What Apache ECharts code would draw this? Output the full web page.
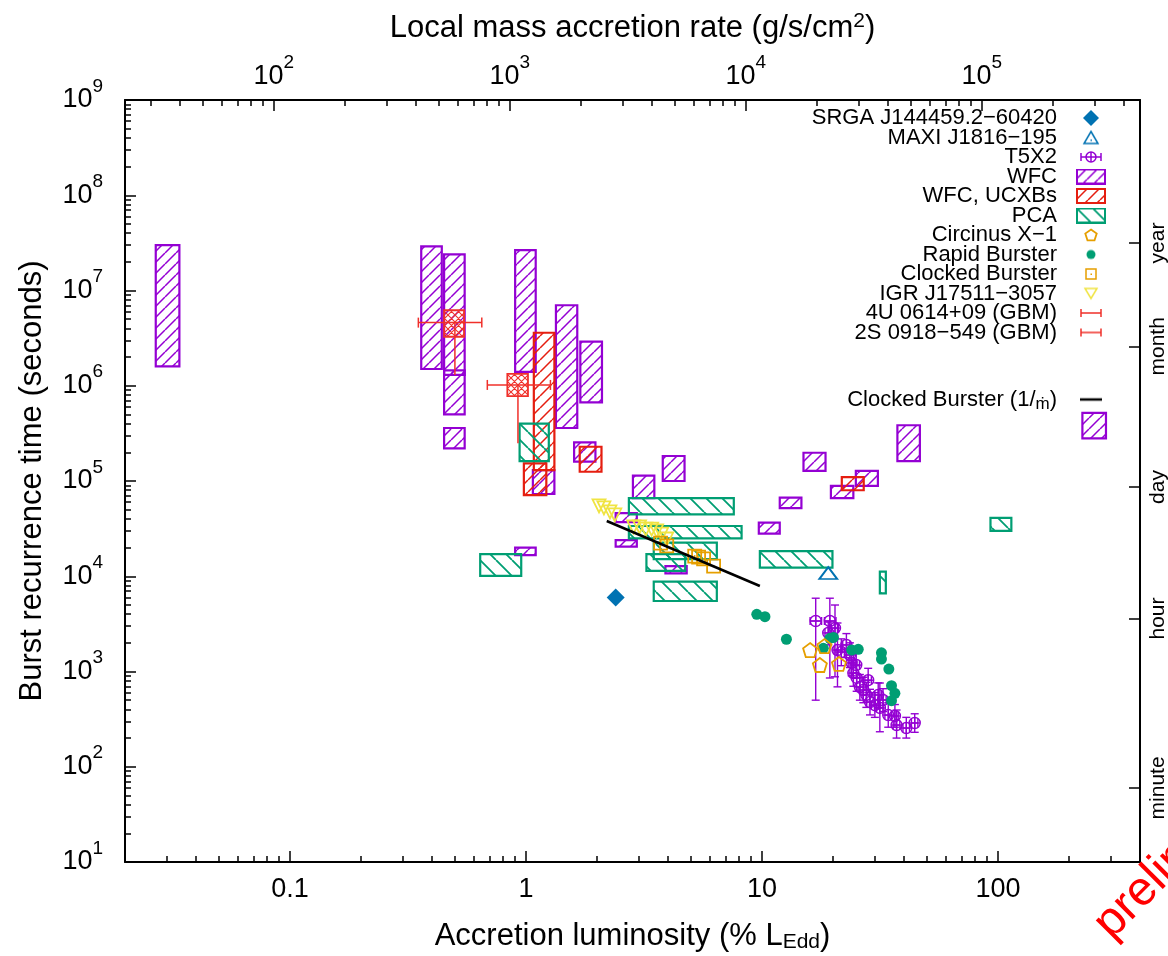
<!DOCTYPE html>
<html>
<head>
<meta charset="utf-8">
<title>Burst recurrence time vs accretion luminosity</title>
<script src="https://cdn.jsdelivr.net/npm/echarts@6/dist/echarts.min.js"></script>
<style>
  html, body { margin: 0; padding: 0; background: #fff; }
  #chart { width: 1168px; height: 956px; }
</style>
</head>
<body>
<div id="chart"></div>
<script>
// ---- data (L in % L_Edd, t in seconds) ----
// boxes: [Lmin, Lmax, tmin, tmax]
const wfcBoxes = [
  [0.027, 0.034, 1.6e6, 3.0e7],
  [0.36, 0.44, 1.5e6, 2.9e7],
  [0.45, 0.55, 1.3e6, 2.4e7],
  [0.45, 0.55, 5.0e5, 1.45e6],
  [0.45, 0.55, 2.2e5, 3.6e5],
  [0.9, 1.1, 1.4e6, 2.65e7],
  [1.34, 1.65, 3.6e5, 7.0e6],
  [1.7, 2.1, 6.7e5, 2.9e6],
  [1.07, 1.32, 7.3e4, 1.3e5],
  [1.6, 1.97, 1.6e5, 2.55e5],
  [2.84, 3.5, 6.6e4, 1.14e5],
  [3.8, 4.7, 1.0e5, 1.83e5],
  [0.9, 1.1, 1.67e4, 2.0e4],
  [2.4, 2.95, 3.7e4, 4.6e4],
  [2.4, 2.95, 2.05e4, 2.4e4],
  [3.9, 4.8, 1.07e4, 1.28e4],
  [9.7, 11.9, 2.8e4, 3.65e4],
  [11.9, 14.7, 5.2e4, 6.7e4],
  [15.0, 18.6, 1.28e5, 1.98e5],
  [19.6, 24.4, 6.6e4, 8.9e4],
  [25.0, 31.0, 8.9e4, 1.28e5],
  [37.5, 46.7, 1.62e5, 3.85e5],
  [228, 287, 2.8e5, 5.2e5]
];
const ucxbBoxes = [
  [1.08, 1.32, 1.3e5, 3.6e6],
  [0.98, 1.22, 7.1e4, 1.53e5],
  [1.69, 2.09, 1.25e5, 2.29e5],
  [21.8, 27.0, 8.0e4, 1.1e5]
];
const pcaBoxes = [
  [0.94, 1.25, 1.62e5, 4.0e5],
  [0.64, 0.955, 1.01e4, 1.71e4],
  [2.73, 7.6, 4.47e4, 6.6e4],
  [2.73, 8.2, 2.5e4, 3.37e4],
  [3.48, 6.44, 1.51e4, 2.25e4],
  [3.24, 4.73, 1.14e4, 1.71e4],
  [3.48, 6.44, 5.5e3, 8.8e3],
  [9.8, 19.9, 1.23e4, 1.84e4],
  [31.6, 33.5, 6.6e3, 1.12e4],
  [93, 114, 3.0e4, 4.1e4]
];
// GBM: [L, t, Llo, Lhi, tlo, boxLmin, boxLmax, boxTmin, boxTmax]
const gbm4U = [[0.50, 4.6e6, 0.35, 0.65, 1.3e6, 0.45, 0.547, 3.27e6, 6.2e6]];
const gbm2S = [[0.925, 1.02e6, 0.686, 1.27, 2.49e5, 0.834, 1.02, 7.8e5, 1.33e6]];
// T5X2: [L, t, tlo, thi, Llo, Lhi]
const t5x2 = [
  [16.9, 3390, 500, 5880, 16.0, 17.9],
  [19.4, 3390, 855, 5880, 18.4, 20.6],
  [20.4, 2860, 880, 4990, 19.7, 21.1],
  [19.1, 2540, 1900, 3300, 18.5, 19.8],
  [20.9, 1680, 690, 3230, 20.2, 21.6],
  [21.7, 1600, 1150, 2200, 21.0, 22.4],
  [22.8, 1900, 1400, 2500, 22.0, 23.6],
  [23.6, 1490, 1100, 2000, 22.8, 24.4],
  [24.0, 1230, 900, 1650, 23.2, 24.8],
  [25.1, 1170, 860, 1550, 24.3, 25.9],
  [24.4, 963, 700, 1300, 23.6, 25.2],
  [25.2, 855, 620, 1150, 24.4, 26.0],
  [26.0, 687, 500, 930, 25.1, 26.9],
  [26.9, 639, 470, 870, 26.0, 27.8],
  [27.7, 567, 420, 770, 26.8, 28.6],
  [28.2, 810, 600, 1080, 27.3, 29.1],
  [28.7, 478, 350, 650, 27.8, 29.6],
  [30.1, 443, 330, 600, 29.1, 31.1],
  [31.1, 567, 420, 760, 30.1, 32.1],
  [31.6, 414, 233, 757, 30.6, 32.6],
  [32.6, 502, 380, 660, 31.6, 33.6],
  [34.3, 349, 260, 470, 33.2, 35.4],
  [36.6, 341, 260, 450, 35.4, 37.8],
  [37.2, 274, 200, 394, 36.0, 38.4],
  [40.9, 255, 200, 330, 39.6, 42.2],
  [44.4, 288, 230, 360, 43.0, 45.8]
];
const srga = [[2.4, 6.0e3]];
const maxi = [[19.1, 1.08e4]];
const circinus = [[16.0, 1680], [17.6, 1170], [21.2, 1200], [18.4, 1850]];
const rapid = [
  [9.51, 3980], [10.3, 3760], [12.7, 2180], [19.4, 2230], [20.1, 2280],
  [18.2, 1750], [24.0, 1680], [25.6, 1710], [32.1, 1570], [32.1, 1350],
  [34.5, 1060], [35.4, 710], [36.6, 590], [35.4, 494]
];
const clocked = [[3.72, 2.23e4], [3.95, 2.08e4], [5.19, 1.63e4], [5.39, 1.59e4], [5.66, 1.52e4], [6.24, 1.28e4]];
const igr = [
  [2.04, 5.47e4], [2.14, 5.21e4], [2.27, 4.73e4], [2.38, 4.40e4],
  [2.86, 3.29e4], [3.03, 3.29e4], [3.22, 3.13e4], [3.41, 3.13e4],
  [3.58, 2.99e4], [3.76, 2.77e4], [3.95, 2.46e4]
];
const clockedLine = [[2.2, 3.8e4], [9.8, 7.9e3]];

// axes
const lumTicks = [0.1, 1, 10, 100];
const timeExpTicks = [1, 2, 3, 4, 5, 6, 7, 8, 9];
const mdotExpTicks = [2, 3, 4, 5];
const timeMarks = [60, 3600, 86400, 2.592e6, 3.156e7];
const timeMarkLabels = ['minute', 'hour', 'day', 'month', 'year'];
const MDOT_PER_LEDD = 1170; // g/s/cm^2 per % L_Edd
const X_MIN = 0.02, X_MAX = 400, Y_MIN = 10, Y_MAX = 1e9;

// ---- helpers ----
const lg = Math.log10;
const FONT = "'Liberation Sans', Arial, Helvetica, sans-serif";
const PURPLE = '#9400D3', RED = '#E51E10', GREEN = '#009E73', BLUE = '#0072B2',
      ORANGE = '#E69F00', YELLOW = '#F0E442', GBMRED = '#F0302A';

function minorTicks(lo, hi) {
  const out = [];
  for (let e = Math.floor(lg(lo)); e <= Math.ceil(lg(hi)); e++) {
    for (let k = 2; k <= 9; k++) {
      const v = k * Math.pow(10, e);
      if (v > lo && v < hi) out.push(lg(v));
    }
  }
  return out;
}

function hatch(color, p, dirs, width) {
  const c = document.createElement('canvas');
  c.width = p; c.height = p;
  const ctx = c.getContext('2d');
  ctx.strokeStyle = color; ctx.lineWidth = width;
  ctx.beginPath();
  for (let k = -1; k <= 1; k++) {
    if (dirs.includes('/')) { ctx.moveTo(k * p, p); ctx.lineTo(k * p + p, 0); }
    if (dirs.includes('\\')) { ctx.moveTo(k * p, 0); ctx.lineTo(k * p + p, p); }
  }
  ctx.stroke();
  return c;
}
const hatchWFC = hatch(PURPLE, 11, '/', 1.5);
const hatchUCXB = hatch(RED, 12, '/', 1.5);
const hatchPCA = hatch(GREEN, 16, '\\', 1.8);
const hatchGBM = hatch(GBMRED, 7, '/\\', 1.1);

function icon(draw) {
  const c = document.createElement('canvas');
  c.width = 30; c.height = 16;
  const ctx = c.getContext('2d');
  draw(ctx);
  return 'image://' + c.toDataURL();
}
function hatchIcon(color, pat) {
  return icon(ctx => {
    ctx.fillStyle = ctx.createPattern(pat, 'repeat');
    ctx.fillRect(1, 1, 28, 14);
    ctx.strokeStyle = color; ctx.lineWidth = 2;
    ctx.strokeRect(1, 1, 28, 14);
  });
}
function errIcon(color, withCircle) {
  return icon(ctx => {
    ctx.strokeStyle = color; ctx.lineWidth = 1.5;
    ctx.beginPath();
    ctx.moveTo(5, 8); ctx.lineTo(25, 8);
    ctx.moveTo(5, 4); ctx.lineTo(5, 12);
    ctx.moveTo(25, 4); ctx.lineTo(25, 12);
    if (withCircle) { ctx.moveTo(15, 3); ctx.lineTo(15, 13); }
    ctx.stroke();
    if (withCircle) { ctx.beginPath(); ctx.arc(15, 8, 5, 0, Math.PI * 2); ctx.stroke(); }
  });
}

const toLog = rows => rows.map(r => r.map(lg));

function boxSeries(name, boxes, color, pat) {
  const fill = { image: pat, repeat: 'repeat' };
  return {
    name, type: 'custom', clip: true,
    encode: { x: [0, 1], y: [2, 3] },
    data: toLog(boxes),
    renderItem(params, api) {
      const p0 = api.coord([api.value(0), api.value(2)]);
      const p1 = api.coord([api.value(1), api.value(3)]);
      return {
        type: 'rect',
        shape: { x: p0[0], y: p1[1], width: p1[0] - p0[0], height: p0[1] - p1[1] },
        style: { fill, stroke: color, lineWidth: 2.2 }
      };
    }
  };
}

function seg(x1, y1, x2, y2, st) { return { type: 'line', shape: { x1, y1, x2, y2 }, style: st }; }

function gbmSeries(name, rows) {
  const fill = { image: hatchGBM, repeat: 'repeat' };
  return {
    name, type: 'custom',
    encode: { x: [0, 2, 3], y: [1, 4] },
    data: toLog(rows),
    renderItem(params, api) {
      const c = api.coord([api.value(0), api.value(1)]);
      const xl = api.coord([api.value(2), api.value(1)])[0];
      const xh = api.coord([api.value(3), api.value(1)])[0];
      const yl = api.coord([api.value(0), api.value(4)])[1];
      const b0 = api.coord([api.value(5), api.value(7)]);
      const b1 = api.coord([api.value(6), api.value(8)]);
      const st = { stroke: GBMRED, lineWidth: 1.5, fill: 'none' };
      return { type: 'group', children: [
        seg(c[0], c[1], c[0], yl, st),
        seg(xl, c[1], xh, c[1], st),
        seg(xl, c[1] - 5, xl, c[1] + 5, st),
        seg(xh, c[1] - 5, xh, c[1] + 5, st),
        { type: 'rect', shape: { x: b0[0], y: b1[1], width: b1[0] - b0[0], height: b0[1] - b1[1] },
          style: { fill, stroke: GBMRED, lineWidth: 1.8 } }
      ]};
    }
  };
}

const hollow = color => ({ color: 'rgba(0,0,0,0)', borderColor: color, borderWidth: 1.8, opacity: 1 });

const series = [
  boxSeries('WFC', wfcBoxes, PURPLE, hatchWFC),
  boxSeries('WFC, UCXBs', ucxbBoxes, RED, hatchUCXB),
  boxSeries('PCA', pcaBoxes, GREEN, hatchPCA),
  gbmSeries('4U 0614+09 (GBM)', gbm4U),
  gbmSeries('2S 0918\u2212549 (GBM)', gbm2S),
  {
    name: 'IGR J17511\u22123057', type: 'scatter', symbol: 'triangle', symbolRotate: 180,
    symbolSize: 13, itemStyle: hollow(YELLOW), data: toLog(igr)
  },
  {
    name: 'Clocked Burster', type: 'scatter', symbol: 'rect', symbolSize: 13,
    itemStyle: hollow(ORANGE), data: toLog(clocked)
  },
  {
    name: '_cbdot', type: 'scatter', symbol: 'circle', symbolSize: 2,
    itemStyle: { color: ORANGE, opacity: 1 }, data: toLog(clocked)
  },
  {
    name: 'T5X2', type: 'custom',
    encode: { x: [0, 4, 5], y: [1, 2, 3] },
    data: toLog(t5x2),
    renderItem(params, api) {
      const c = api.coord([api.value(0), api.value(1)]);
      const yl = api.coord([api.value(0), api.value(2)])[1];
      const yh = api.coord([api.value(0), api.value(3)])[1];
      const xl = api.coord([api.value(4), api.value(1)])[0];
      const xh = api.coord([api.value(5), api.value(1)])[0];
      const r = 5.5, cap = 4;
      const st = { stroke: PURPLE, lineWidth: 1.4, fill: 'none' };
      return { type: 'group', children: [
        seg(c[0], yl, c[0], yh, st),
        seg(c[0] - cap, yl, c[0] + cap, yl, st),
        seg(c[0] - cap, yh, c[0] + cap, yh, st),
        seg(xl, c[1], xh, c[1], st),
        seg(xl, c[1] - cap, xl, c[1] + cap, st),
        seg(xh, c[1] - cap, xh, c[1] + cap, st),
        seg(c[0] - r, c[1], c[0] + r, c[1], st),
        seg(c[0], c[1] - r, c[0], c[1] + r, st),
        { type: 'circle', shape: { cx: c[0], cy: c[1], r }, style: st }
      ]};
    }
  },
  {
    name: 'Rapid Burster', type: 'scatter', symbol: 'circle', symbolSize: 11,
    itemStyle: { color: GREEN, opacity: 1 }, data: toLog(rapid)
  },
  {
    name: 'Circinus X\u22121', type: 'scatter',
    symbol: 'path://M0,-10 L9.51,-3.09 L5.88,8.09 L-5.88,8.09 L-9.51,-3.09 Z',
    symbolSize: 14, itemStyle: hollow(ORANGE), data: toLog(circinus)
  },
  {
    name: 'SRGA J144459.2\u221260420', type: 'scatter', symbol: 'diamond', symbolSize: 18,
    itemStyle: { color: BLUE, opacity: 1 }, data: toLog(srga)
  },
  {
    name: 'MAXI J1816\u2212195', type: 'scatter', symbol: 'triangle', symbolSize: [18, 12],
    itemStyle: hollow(BLUE), data: toLog(maxi)
  },
  {
    name: 'Clocked Burster (1/\u1e41)', type: 'line', symbol: 'none',
    lineStyle: { color: '#000', width: 2.5 }, data: toLog(clockedLine)
  }
];

const legendIcons = {
  'SRGA J144459.2\u221260420': icon(ctx => {
    ctx.fillStyle = BLUE; ctx.beginPath();
    ctx.moveTo(15, 0); ctx.lineTo(23, 8); ctx.lineTo(15, 16); ctx.lineTo(7, 8); ctx.closePath(); ctx.fill();
  }),
  'MAXI J1816\u2212195': icon(ctx => {
    ctx.strokeStyle = BLUE; ctx.lineWidth = 1.5; ctx.beginPath();
    ctx.moveTo(15, 2); ctx.lineTo(22, 14); ctx.lineTo(8, 14); ctx.closePath(); ctx.stroke();
    ctx.fillStyle = BLUE; ctx.fillRect(14.5, 10, 1.5, 1.5);
  }),
  'T5X2': errIcon(PURPLE, true),
  'WFC': hatchIcon(PURPLE, hatchWFC),
  'WFC, UCXBs': hatchIcon(RED, hatchUCXB),
  'PCA': hatchIcon(GREEN, hatchPCA),
  'Circinus X\u22121': icon(ctx => {
    ctx.strokeStyle = ORANGE; ctx.lineWidth = 1.8; ctx.beginPath();
    for (let i = 0; i < 5; i++) {
      const a = -Math.PI / 2 + i * 2 * Math.PI / 5;
      const x = 15 + 6 * Math.cos(a), y = 8.5 + 6 * Math.sin(a);
      i ? ctx.lineTo(x, y) : ctx.moveTo(x, y);
    }
    ctx.closePath(); ctx.stroke();
  }),
  'Rapid Burster': icon(ctx => {
    ctx.fillStyle = GREEN; ctx.beginPath(); ctx.arc(15, 8, 4.5, 0, Math.PI * 2); ctx.fill();
  }),
  'Clocked Burster': icon(ctx => {
    ctx.strokeStyle = ORANGE; ctx.lineWidth = 1.5; ctx.strokeRect(10, 3, 10, 10);
    ctx.fillStyle = ORANGE; ctx.fillRect(14.5, 7.5, 1.5, 1.5);
  }),
  'IGR J17511\u22123057': icon(ctx => {
    ctx.strokeStyle = YELLOW; ctx.lineWidth = 1.5; ctx.beginPath();
    ctx.moveTo(9, 3); ctx.lineTo(21, 3); ctx.lineTo(15, 13); ctx.closePath(); ctx.stroke();
  }),
  '4U 0614+09 (GBM)': errIcon(GBMRED, false),
  '2S 0918\u2212549 (GBM)': errIcon(GBMRED, false),
  'Clocked Burster (1/\u1e41)': icon(ctx => {
    ctx.strokeStyle = '#000'; ctx.lineWidth = 2.5; ctx.beginPath();
    ctx.moveTo(4, 8); ctx.lineTo(26, 8); ctx.stroke();
  })
};
const legendNames = [
  'SRGA J144459.2\u221260420', 'MAXI J1816\u2212195', 'T5X2', 'WFC', 'WFC, UCXBs', 'PCA',
  'Circinus X\u22121', 'Rapid Burster', 'Clocked Burster', 'IGR J17511\u22123057',
  '4U 0614+09 (GBM)', '2S 0918\u2212549 (GBM)'
];

const legendBase = {
  orient: 'vertical', align: 'right', right: 57, selectedMode: false,
  itemWidth: 30, itemHeight: 16, itemGap: -2.5, padding: 5,
  textStyle: { fontSize: 22, color: '#000', fontFamily: FONT, padding: [0, 14, 0, 0] }
};

const frameLine = { show: true, onZero: false, lineStyle: { color: '#000', width: 2 } };
const tickStyle = { color: '#000', width: 1.5 };
const supRich = {
  b: { fontSize: 27, fontFamily: FONT, color: '#000' },
  s: { fontSize: 19, lineHeight: 19, fontFamily: FONT, color: '#000', padding: [0, 0, 27, 0] }
};
const powLabel = v => '{b|10}{s|' + Math.round(v) + '}';
const titleStyle = { fontSize: 31, color: '#000', fontFamily: FONT };

function minorAxis(base, values) {
  return Object.assign({
    type: 'value', axisLine: { show: false, onZero: false }, splitLine: { show: false },
    axisLabel: { show: false },
    axisTick: { inside: true, length: 6, customValues: values, lineStyle: tickStyle }
  }, base);
}

const xRange = { min: lg(X_MIN), max: lg(X_MAX) };
const mRange = { min: lg(X_MIN * MDOT_PER_LEDD), max: lg(X_MAX * MDOT_PER_LEDD) };
const yRange = { min: lg(Y_MIN), max: lg(Y_MAX) };

const option = {
  animation: false,
  backgroundColor: '#fff',
  grid: { left: 125, right: 28, top: 100, bottom: 94, containLabel: false, outerBoundsMode: 'none' },
  xAxis: [
    Object.assign({
      type: 'value', position: 'bottom',
      axisLine: frameLine, splitLine: { show: false },
      axisTick: { inside: true, length: 11, customValues: lumTicks.map(lg), lineStyle: tickStyle },
      axisLabel: {
        customValues: lumTicks.map(lg), margin: 14, fontSize: 27, color: '#000', fontFamily: FONT,
        formatter: v => { const x = Math.pow(10, v); return x < 1 ? x.toFixed(1) : String(Math.round(x)); }
      },
      name: 'Accretion luminosity (% L{sub|Edd})', nameLocation: 'middle', nameGap: 59,
      nameTextStyle: Object.assign({}, titleStyle, {
        rich: { sub: { fontSize: 21, lineHeight: 21, padding: [12, 0, 0, 0], fontFamily: FONT, color: '#000' } }
      })
    }, xRange),
    minorAxis(Object.assign({ position: 'bottom' }, xRange), minorTicks(X_MIN, X_MAX)),
    Object.assign({
      type: 'value', position: 'top',
      axisLine: frameLine, splitLine: { show: false },
      axisTick: { inside: true, length: 11, customValues: mdotExpTicks, lineStyle: tickStyle },
      axisLabel: { customValues: mdotExpTicks, margin: 10, formatter: powLabel, rich: supRich },
      name: 'Local mass accretion rate (g/s/cm{sup|2})', nameLocation: 'middle', nameGap: 56,
      nameTextStyle: Object.assign({}, titleStyle, {
        rich: { sup: { fontSize: 21, lineHeight: 21, padding: [0, 0, 14, 0], fontFamily: FONT, color: '#000' } }
      })
    }, mRange),
    minorAxis(Object.assign({ position: 'top' }, mRange),
      minorTicks(X_MIN * MDOT_PER_LEDD, X_MAX * MDOT_PER_LEDD))
  ],
  yAxis: [
    Object.assign({
      type: 'value', position: 'left',
      axisLine: frameLine, splitLine: { show: false },
      axisTick: { inside: true, length: 11, customValues: timeExpTicks, lineStyle: tickStyle },
      axisLabel: { customValues: timeExpTicks, margin: 22, formatter: powLabel, rich: supRich },
      name: 'Burst recurrence time (seconds)', nameLocation: 'middle', nameGap: 77,
      nameTextStyle: titleStyle
    }, yRange),
    minorAxis(Object.assign({ position: 'left' }, yRange), minorTicks(Y_MIN, Y_MAX)),
    Object.assign({
      type: 'value', position: 'right',
      axisLine: frameLine, splitLine: { show: false },
      axisTick: { inside: true, length: 11, customValues: timeMarks.map(lg), lineStyle: tickStyle },
      axisLabel: {
        customValues: timeMarks.map(lg), rotate: 90, margin: 8,
        fontSize: 21, color: '#000', fontFamily: FONT,
        formatter: v => timeMarkLabels[timeMarks.findIndex(t => Math.abs(lg(t) - v) < 1e-6)]
      }
    }, yRange)
  ],
  legend: [
    Object.assign({}, legendBase, {
      top: 102,
      data: legendNames.map(n => ({ name: n, icon: legendIcons[n] }))
    }),
    Object.assign({}, legendBase, {
      top: 381,
      formatter: () => 'Clocked Burster (1/{m|\u1e41})',
      textStyle: Object.assign({}, legendBase.textStyle, {
        rich: { m: { fontSize: 17, lineHeight: 17, padding: [10, 0, 0, 0], fontFamily: FONT, color: '#000' } }
      }),
      data: [{ name: 'Clocked Burster (1/\u1e41)', icon: legendIcons['Clocked Burster (1/\u1e41)'] }]
    })
  ],
  graphic: [{
    type: 'text', x: 1119, y: 948, rotation: 45 * Math.PI / 180, z: 100,
    style: { text: 'preliminary', fill: '#FF0000', font: '48px ' + FONT, align: 'left', verticalAlign: 'bottom' }
  }],
  series
};

const chart = echarts.init(document.getElementById('chart'), null, { renderer: 'canvas' });
chart.setOption(option);
window.addEventListener('resize', () => chart.resize());
</script>
</body>
</html>
